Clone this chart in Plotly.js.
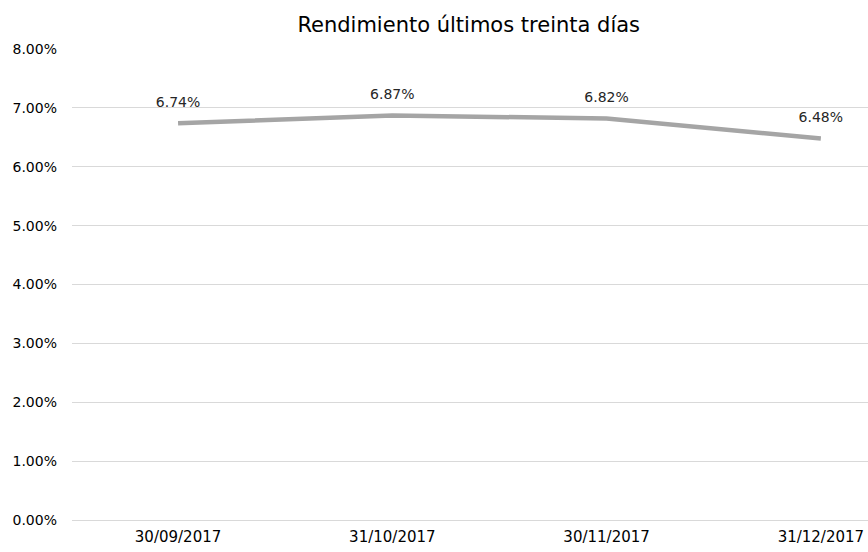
<!DOCTYPE html>
<html>
<head>
<meta charset="utf-8">
<script src="https://cdn.plot.ly/plotly-3.0.1.min.js"></script>
<style>html,body{margin:0;padding:0;background:#fff;}#chart{width:868px;height:552px;}</style>
</head>
<body>
<div id="chart"></div>
<script>
const categories = ["30/09/2017", "31/10/2017", "30/11/2017", "31/12/2017"];
const rendimiento = [6.74, 6.87, 6.82, 6.48];
const yTickVals = [0, 1, 2, 3, 4, 5, 6, 7, 8];
const yTickText = ["0.00%", "1.00%", "2.00%", "3.00%", "4.00%", "5.00%", "6.00%", "7.00%", "8.00%"];
const titleText = "Rendimiento últimos treinta días";

const fontFam = "'DejaVu Sans', sans-serif";

const trace = {
  x: categories,
  y: rendimiento,
  type: "scatter",
  mode: "lines+markers+text",
  line: {color: "#A5A5A5", width: 4.5},
  marker: {size: 19, opacity: 0, color: "#A5A5A5"},
  text: rendimiento.map(v => v.toFixed(2) + "%"),
  textposition: "top center",
  textfont: {family: fontFam, size: 14, color: "#262626"},
  hoverinfo: "skip",
  cliponaxis: false
};

const layout = {
  width: 868, height: 552,
  margin: {l: 72, r: 0, t: 49, b: 32},
  paper_bgcolor: "#fff", plot_bgcolor: "#fff",
  title: {text: titleText, x: 0.54, xanchor: "center", y: 0.955, yanchor: "middle",
          font: {family: fontFam, size: 21, color: "#000"}},
  showlegend: false,
  xaxis: {
    type: "category",
    range: [-0.495, 3.22],
    showgrid: false, zeroline: false, showline: false,
    ticks: "", ticklabelstandoff: 6,
    tickfont: {family: fontFam, size: 15, color: "#000"}
  },
  yaxis: {
    range: [0, 8],
    tickvals: yTickVals, ticktext: yTickText,
    showgrid: true, gridcolor: "#D9D9D9", gridwidth: 1,
    zeroline: true, zerolinecolor: "#D9D9D9", zerolinewidth: 1,
    showline: false, ticks: "", ticklen: 0, ticklabelstandoff: 14,
    tickfont: {family: fontFam, size: 14, color: "#000"}
  }
};

Plotly.newPlot("chart", [trace], layout, {displayModeBar: false, staticPlot: true});
</script>
</body>
</html>
